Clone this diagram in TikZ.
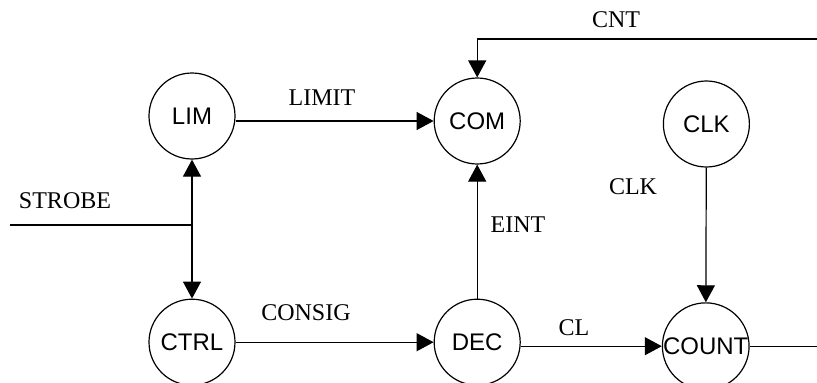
\documentclass[tikz,border=0pt]{standalone}
\usepackage{fontspec}
\setmainfont{Liberation Serif}
\newfontfamily\procfont{Liberation Sans}
\usetikzlibrary{arrows.meta, positioning}

\begin{document}
\begin{tikzpicture}[node distance=139pt and 198pt, line width=1.2pt, proc/.style={draw, circle, minimum size=86pt, inner sep=0pt, font=\procfont\fontsize{24}{28}\selectfont}, sig/.style={font=\fontsize{24}{28}\selectfont}, >={Triangle[length=17pt, width=18pt]}]
\clip (-192pt,116pt) rectangle (625pt,-267pt);
\node[proc] (lim) {LIM};
\node[proc, right=of lim, yshift=-5pt] (com) {COM};
\node[proc, right=142pt of com, yshift=-3pt] (clk) {CLK};
\node[proc, below=of lim] (ctrl) {CTRL};
\node[proc, right=of ctrl] (dec) {DEC};
\node[proc, right=141pt of dec, yshift=-4pt] (count) {COUNT};
% free ends at the border
\coordinate (cntin) at (625pt,77pt);
\coordinate (strobein) at (-182pt,-109pt);
\coordinate[right=68pt of count.east] (countout);
\draw[->] (lim.east |- com) -- (com.west);
\draw[->] (cntin) -| (com.north);
\draw[->] (clk) -- (count);
\draw[->] (dec) -- (com);
\draw[<->] (lim) -- (ctrl);
\draw (strobein) -- (lim |- strobein);
\draw[->] (ctrl) -- (dec);
\draw[->] (dec.east |- count) -- (count.west);
\draw (count.east) -- (countout);
% signal names
\node[sig] (limitlbl) at (130pt,18pt) {LIMIT};
\node[sig] (cntlbl) at (424pt,96pt) {CNT};
\node[sig] (clklbl) at (441pt,-71pt) {CLK};
\node[sig] (strobelbl) at (-127pt,-85pt) {STROBE};
\node[sig] (consiglbl) at (114pt,-197pt) {CONSIG};
\node[sig] (eintlbl) at (326pt,-109pt) {EINT};
\node[sig] (cllbl) at (382pt,-212pt) {CL};
\end{tikzpicture}
\end{document}
